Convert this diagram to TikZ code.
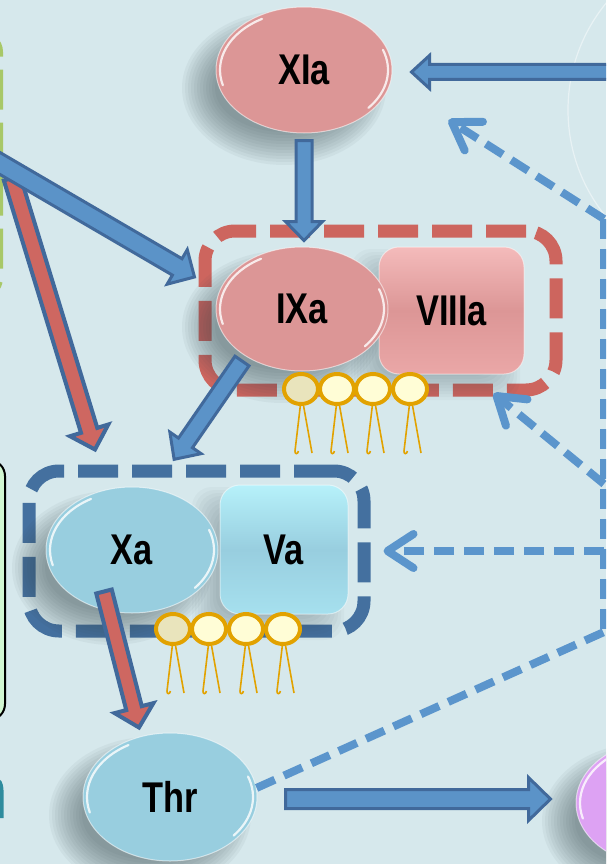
\documentclass[tikz,border=0pt]{standalone}
\usepackage{fontspec}
\setmainfont{Liberation Sans}
\usepackage{graphicx}
\usetikzlibrary{shapes.geometric,arrows.meta,calc}

\definecolor{bgcol}{HTML}{D6E8EC}
\definecolor{pinkfill}{HTML}{DC9696}
\definecolor{pinktop}{HTML}{F4BBBB}
\definecolor{pinkbot}{HTML}{EAA7A7}
\definecolor{bluefill}{HTML}{98CEDF}
\definecolor{bluetop}{HTML}{B6F1FA}
\definecolor{bluebot}{HTML}{A6E0EE}
\definecolor{violetfill}{HTML}{DDA2F3}
\definecolor{arrowfill}{HTML}{5B93C8}
\definecolor{arrowedge}{HTML}{41699B}
\definecolor{redfill}{HTML}{CE6761}
\definecolor{reddash}{HTML}{CD655E}
\definecolor{bluedash}{HTML}{44709F}
\definecolor{lightdash}{HTML}{5B95CC}
\definecolor{lipidring}{HTML}{E2A200}
\definecolor{lipidfill}{HTML}{FFFDD6}
\definecolor{lipidshade}{HTML}{E9E4BC}
\definecolor{leafgreen}{HTML}{A8C868}
\definecolor{panelgreen}{HTML}{D2F7D2}
\definecolor{tealtext}{HTML}{2E8C9E}
\definecolor{shadowgray}{HTML}{34464E}

\tikzset{
  pinkell/.style={ellipse, inner sep=0pt, fill=pinkfill, draw=white,
      draw opacity=.55, line width=1pt},
  blueell/.style={pinkell, fill=bluefill},
  violetell/.style={pinkell, fill=violetfill},
  pinkbox/.style={rectangle, rounded corners=20pt, inner sep=0pt,
      top color=pinktop, bottom color=pinkbot, middle color=pinkfill,
      draw=white, draw opacity=.5, line width=1pt},
  bluebox/.style={pinkbox, top color=bluetop, bottom color=bluebot, middle color=bluefill},
  redcplx/.style={rectangle, rounded corners=30pt, draw=reddash, line width=13pt,
      dash pattern=on 40pt off 14pt},
  bluecplx/.style={redcplx, draw=bluedash},
  greengroup/.style={rectangle, rounded corners=18pt, draw=leafgreen, line width=6pt,
      dash pattern=on 40pt off 13pt},
  panel/.style={rectangle, rounded corners=16pt, fill=panelgreen, draw=black, line width=2pt},
  blockarrow/.style={fill=arrowfill, draw=arrowedge, line width=3pt},
  redarrow/.style={fill=redfill, draw=arrowedge, line width=4pt},
  dashlink/.style={draw=lightdash, line width=8pt, dash pattern=on 20pt off 10pt},
  dasharrow/.style={dashlink, -{Straight Barb[length=26pt, width=34pt, round]}},
  glossline/.style={white, line width=2.2pt, opacity=.8, line cap=round},
  lipidleg/.style={draw=lipidring, line width=1.6pt},
  lipidhead/.style={draw=lipidring, line width=4pt},
  shadowlayer/.style={fill=shadowgray, opacity=.05},
}

% label text: bold, condensed sans
\newcommand\lbl[1]{\scalebox{0.8}[1]{\fontsize{43}{50}\selectfont\bfseries #1}}

% soft drop shadow (down-left) of an ellipse: centre x, y, radii rx, ry
\newcommand\shadowell[4]{%
  \foreach \k in {0,...,11}{%
    \fill[shadowlayer] (#1-20,#2+18) ellipse [x radius=#3+14-3*\k, y radius=#4+14-3*\k];}}
% soft drop shadow of a rounded box: centre x, y, half width, half height
\newcommand\shadowbox[4]{%
  \foreach \k in {0,...,11}{%
    \fill[shadowlayer, opacity=.035, rounded corners=20pt]
      (#1-16-#3-12+3*\k,#2+14-#4-12+3*\k) rectangle (#1-16+#3+12-3*\k,#2+14+#4+12-3*\k);}}

% thick outlined block arrow from #2 to #3
% #4 half shaft width, #5 half head width, #6 head length
\newcommand\blockarrow[6][blockarrow]{%
  \draw[#1] let \p1=(#2), \p2=(#3),
    \n1={atan2(\y2-\y1,\x2-\x1)}, \n2={veclen(\x2-\x1,\y2-\y1)} in
    [shift={(\p1)}, rotate=\n1]
    (0pt,-#4) -- (\n2-#6,-#4) -- (\n2-#6,-#5) -- (\n2,0pt)
    -- (\n2-#6,#5) -- (\n2-#6,#4) -- (0pt,#4) -- cycle;}

% glossy rim highlights on an ellipse node
\newcommand\gloss[3]{%
  \draw[glossline] ($(#1.center)+(165:#2 and #3)$)
    arc[start angle=165, end angle=240, x radius=#2, y radius=#3];
  \draw[glossline] ($(#1.center)+(-20:#2 and #3)$)
    arc[start angle=-20, end angle=40, x radius=#2, y radius=#3];}

% phospholipid: head with two tails
\newcommand\lipid[3][lipidfill]{%
  \draw[lipidleg] (#2-0.7,#3+17) -- (#2-6,#3+62)
    .. controls (#2-6.4,#3+65.5) and (#2-3,#3+65.5) .. (#2-2.6,#3+62);
  \draw[lipidleg] (#2+2.6,#3+17) -- (#2+11,#3+64);
  \draw[lipidhead, fill=#1] (#2,#3) ellipse [x radius=17, y radius=15];}

\begin{document}
\begin{tikzpicture}[x=1pt, y=-1pt]
\useasboundingbox (0,0) rectangle (606,864);
\clip (0,0) rectangle (606,864);
\fill[bgcol] (0,0) rectangle (606,864);
\draw[white, opacity=.45, line width=1.2pt] (737,110) circle [radius=169];

% groups at the left border
\node[greengroup, minimum width=300pt, minimum height=262pt] (grp0) at (-150,165) {};
\node[panel, minimum width=300pt, minimum height=260pt] (grp1) at (-145,590) {};
\fill[tealtext] (-4,779) .. controls (1,778) and (3,782) .. (3.5,790)
  -- (3.5,818) -- (-4,818) -- cycle;

% membrane complexes
\node[redcplx, minimum width=351pt, minimum height=159pt] (cplx1) at (380.5,310.5) {};
\node[bluecplx, minimum width=335pt, minimum height=160pt] (cplx2) at (196.5,551) {};

% shadows under the factors
\shadowell{304}{70}{88}{63}
\shadowbox{451.5}{310.5}{72.5}{63.5}
\shadowell{302}{309}{86}{62}
\shadowbox{284}{549.5}{64}{64.5}
\shadowell{132}{550}{86}{63}
\shadowell{170}{797}{87}{64}
\shadowell{664}{803}{88}{64}

% factors
\node[pinkell, minimum width=176pt, minimum height=126pt] (XIa) at (304,70) {\lbl{XIa}};
\node[pinkbox, minimum width=145pt, minimum height=127pt] (VIIIa) at (451.5,310.5) {\lbl{VIIIa}};
\node[pinkell, minimum width=172pt, minimum height=124pt] (IXa) at (302,309) {\lbl{IXa}};
\node[bluebox, minimum width=128pt, minimum height=129pt] (Va) at (284,549.5) {\lbl{Va}};
\node[blueell, minimum width=172pt, minimum height=126pt] (Xa) at (132,550) {\lbl{Xa}};
\node[blueell, minimum width=174pt, minimum height=128pt] (Thr) at (170,797) {\lbl{Thr}};
\node[violetell, minimum width=176pt, minimum height=128pt] (Pr) at (664,803) {};
\gloss{XIa}{84}{59}
\gloss{IXa}{82}{58}
\gloss{Xa}{82}{59}
\gloss{Thr}{83}{60}
\gloss{Pr}{84}{60}

% phospholipids of both complexes
\lipid[lipidshade]{301}{389}
\lipid{337}{389}
\lipid{373}{389}
\lipid{410}{389}
\lipid[lipidshade]{173}{629}
\lipid{209}{629}
\lipid{246}{629}
\lipid{283}{629}

% feedback links (dashed)
\coordinate (hubT) at (604,219);
\coordinate (hubM) at (604,484);
\coordinate (hubV) at (604,551);
\coordinate (hubB) at (604,632);
\coordinate (tipXI) at ($(XIa.east)+(56,50)$);
\coordinate (tipVIII) at ($(VIIIa.south east)+(-31,19)$);
\coordinate (tipV) at ($(Va.east)+(35,1.5)$);
\draw[dashlink] (hubT) -- (hubB);
\draw[dasharrow] (hubT) -- (tipXI);
\draw[dasharrow] (hubM) -- (tipVIII);
\draw[dasharrow] (hubV) -- (tipV);
\draw[dashlink] (Thr.6) -- (hubB);

% activation arrows
\coordinate (srcR) at (615,72);
\coordinate (srcUL) at (-6,160);
\coordinate (srcUL2) at (12,178);
\blockarrow[redarrow]{srcUL2}{$(Xa.north)+(-37,-37)$}{8.5pt}{20pt}{20pt}
\blockarrow{srcUL}{$(IXa.west)+(-21,-32)$}{9.5pt}{20pt}{20pt}
\blockarrow{srcR}{$(XIa.east)+(19,2)$}{7.5pt}{16.5pt}{18pt}
\blockarrow{$(XIa.south)+(0,7)$}{$(IXa.north)+(2,-6)$}{8pt}{18.5pt}{19pt}
\blockarrow{$(IXa.center)+(-60,52)$}{$(Xa.north)+(42,-27)$}{8.5pt}{19pt}{20pt}
\blockarrow[redarrow]{$(Xa.south)+(-28,-22)$}{$(Thr.north)+(-31,-5)$}{8pt}{20pt}{20pt}
\blockarrow{$(Thr.east)+(28,2)$}{$(Pr.west)+(-25,-4)$}{9.5pt}{21.5pt}{22pt}
\end{tikzpicture}
\end{document}
